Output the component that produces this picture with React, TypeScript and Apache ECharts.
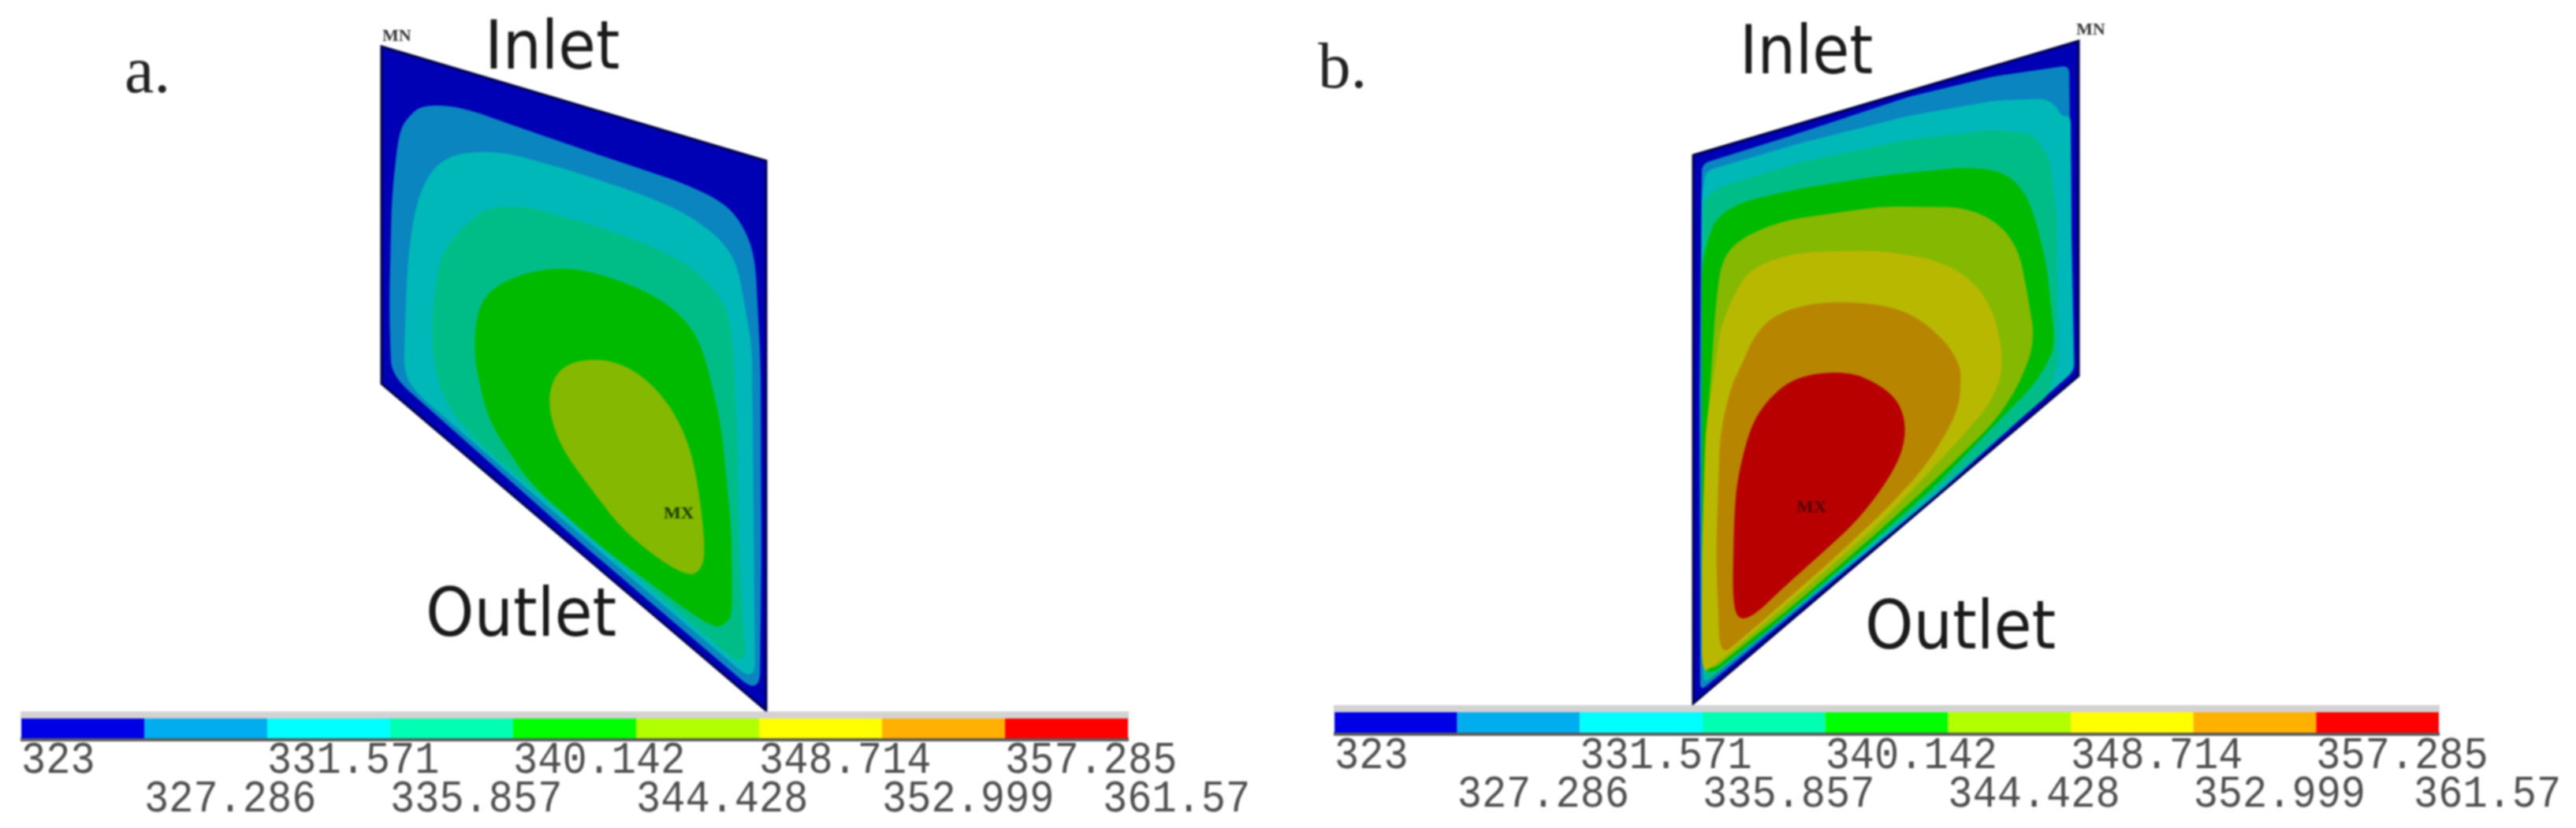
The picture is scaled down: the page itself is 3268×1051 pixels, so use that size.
import React, { useEffect, useRef } from "react";
import * as echarts from "echarts";

const levels = [323, 327.286, 331.571, 335.857, 340.142, 344.428, 348.714, 352.999, 357.285, 361.57];
const levelLabels = ["323", "327.286", "331.571", "335.857", "340.142", "344.428", "348.714", "352.999", "357.285", "361.57"];
const legendColors = ["#0000e6", "#00aef0", "#00ffff", "#00ffb2", "#00ff00", "#b2ff00", "#ffff00", "#ffb000", "#ff0000"];
const contourColors = ["#0000b4", "#0a85c0", "#00b8b8", "#00bd88", "#00ba00", "#85b800", "#b8b800", "#b88500", "#b80000"];

const plateA = [[484, 59], [972, 204], [972, 902], [484, 487]];
const plateB = [[2148, 197], [2637, 52], [2637, 477], [2148, 893]];

const a2 = [[536, 133], [583, 135], [654, 160], [761, 197], [869, 233], [920, 258], [944, 288], [958, 327], [965, 460], [966, 700], [964, 883], [726, 680], [497, 477], [495, 440], [494, 380], [497, 250], [506, 167], [519, 147]];
const a3 = [[590, 193], [640, 193], [726, 217], [815, 247], [869, 270], [911, 300], [935, 333], [947, 400], [954, 440], [956, 650], [958, 867], [726, 670], [526, 497], [513, 473], [513, 440], [517, 333], [526, 267], [540, 227], [561, 203]];
const a4 = [[629, 262], [669, 262], [744, 283], [815, 307], [869, 333], [904, 363], [926, 400], [931, 460], [935, 540], [938, 707], [947, 850], [726, 663], [601, 557], [561, 507], [547, 440], [551, 367], [561, 320], [583, 293], [608, 270]];
const a5 = [[701, 340], [744, 343], [797, 360], [844, 383], [876, 413], [894, 450], [915, 540], [928, 673], [929, 780], [922, 790], [908, 798], [869, 773], [761, 693], [672, 613], [619, 533], [601, 453], [604, 400], [619, 370], [654, 350]];
const a6 = [[761, 455], [797, 465], [833, 493], [861, 533], [879, 580], [890, 647], [895, 707], [886, 727], [872, 730], [840, 713], [790, 673], [744, 613], [711, 567], [695, 517], [701, 480], [722, 460]];

const b2 = [[2159, 208], [2279, 170], [2421, 123], [2529, 97], [2625, 83], [2628, 300], [2632, 470], [2457, 628], [2386, 687], [2157, 877], [2156, 500]];
const b3 = [[2164, 217], [2279, 183], [2421, 147], [2529, 128], [2593, 125], [2607, 133], [2616, 148], [2627, 147], [2628, 300], [2630, 472], [2457, 625], [2386, 685], [2161, 868], [2159, 500], [2159, 250]];
const b4 = [[2161, 253], [2182, 237], [2279, 207], [2421, 177], [2529, 165], [2579, 170], [2600, 200], [2609, 267], [2611, 460], [2609, 467], [2600, 500], [2457, 622], [2386, 682], [2163, 867], [2160, 600]];
const b5 = [[2177, 277], [2207, 257], [2279, 240], [2386, 223], [2493, 212], [2539, 217], [2564, 237], [2579, 267], [2596, 333], [2607, 433], [2600, 457], [2579, 490], [2457, 615], [2386, 678], [2243, 800], [2163, 862], [2159, 773], [2159, 333], [2168, 300]];
const b6 = [[2184, 330], [2207, 303], [2261, 280], [2386, 262], [2493, 263], [2536, 283], [2561, 317], [2571, 367], [2582, 433], [2561, 490], [2529, 537], [2457, 607], [2386, 672], [2279, 765], [2163, 858], [2163, 740], [2166, 540], [2177, 383]];
const b7 = [[2182, 417], [2200, 373], [2221, 340], [2279, 320], [2386, 318], [2457, 330], [2500, 353], [2529, 393], [2543, 460], [2529, 507], [2493, 550], [2439, 608], [2386, 663], [2279, 757], [2171, 848], [2159, 853], [2159, 707], [2164, 540], [2177, 460]];
const b8 = [[2211, 460], [2225, 427], [2250, 400], [2296, 385], [2350, 383], [2404, 390], [2439, 407], [2471, 437], [2484, 460], [2488, 473], [2486, 513], [2471, 547], [2439, 597], [2386, 653], [2314, 720], [2207, 813], [2182, 833], [2177, 707], [2182, 550], [2196, 490]];
const b9 = [[2307, 473], [2350, 473], [2382, 487], [2407, 507], [2418, 537], [2414, 573], [2393, 613], [2357, 660], [2314, 700], [2261, 747], [2225, 782], [2204, 787], [2198, 757], [2200, 657], [2204, 607], [2221, 540], [2243, 507], [2271, 483]];

const layersA = [[plateA, 0, 0], [a2, 1, 16], [a3, 2, 14], [a4, 3, 16], [a5, 4, 16], [a6, 5, 16]];
const layersB = [[plateB, 0, 0], [b2, 1, 5], [b3, 2, 5], [b4, 3, 6], [b5, 4, 12], [b6, 5, 14], [b7, 6, 16], [b8, 7, 16], [b9, 8, 16]];

const annotations = [
  { t: "Inlet", x: 615, y: 87, size: 85, sx: 0.91, font: "DejaVu Sans", fill: "#1a1a1a", w: "normal" },
  { t: "Outlet", x: 540, y: 807, size: 85, sx: 0.92, font: "DejaVu Sans", fill: "#1a1a1a", w: "normal" },
  { t: "Inlet", x: 2207, y: 93, size: 85, sx: 0.9, font: "DejaVu Sans", fill: "#1a1a1a", w: "normal" },
  { t: "Outlet", x: 2366, y: 823, size: 85, sx: 0.92, font: "DejaVu Sans", fill: "#1a1a1a", w: "normal" },
  { t: "a.", x: 158, y: 117, size: 84, sx: 1, font: "Liberation Serif", fill: "#222", w: "normal" },
  { t: "b.", x: 1672, y: 112, size: 83, sx: 1, font: "Liberation Serif", fill: "#222", w: "normal" },
  { t: "MN", x: 485, y: 52, size: 20, sx: 1.1, font: "Liberation Serif", fill: "#333", w: "bold" },
  { t: "MX", x: 842, y: 658, size: 20, sx: 1.15, font: "Liberation Serif", fill: "#143c00", w: "bold" },
  { t: "MN", x: 2634, y: 44, size: 20, sx: 1.1, font: "Liberation Serif", fill: "#333", w: "bold" },
  { t: "MX", x: 2279, y: 650, size: 20, sx: 1.15, font: "Liberation Serif", fill: "#500000", w: "bold" },
];

const round = (pts: number[][], cut: number, iters: number) => {
  let out = pts;
  let c = cut;
  for (let k = 0; k < iters; k++) {
    const next: number[][] = [];
    for (let i = 0; i < out.length; i++) {
      const p = out[i];
      const q = out[(i + 1) % out.length];
      const len = Math.hypot(q[0] - p[0], q[1] - p[1]) || 1;
      const t = Math.min(0.25, c / len);
      next.push([p[0] + (q[0] - p[0]) * t, p[1] + (q[1] - p[1]) * t]);
      next.push([q[0] - (q[0] - p[0]) * t, q[1] - (q[1] - p[1]) * t]);
    }
    out = next;
    c /= 2;
  }
  return out;
};

const layerSeries = (layer: any[]) => ({
  type: "custom",
  coordinateSystem: "cartesian2d",
  xAxisIndex: 0,
  yAxisIndex: 0,
  silent: true,
  clip: false,
  data: [layer[0][0]],
  renderItem: (_p: any, api: any) => {
    const px = layer[0].map((pt: number[]) => api.coord(pt));
    return {
      type: "polygon",
      shape: { points: layer[2] ? round(px, layer[2], 3) : px },
      style: { fill: contourColors[layer[1]] },
    };
  },
});

const outlineSeries = (plate: number[][]) => ({
  type: "custom",
  coordinateSystem: "cartesian2d",
  xAxisIndex: 0,
  yAxisIndex: 0,
  silent: true,
  clip: false,
  data: [plate[0]],
  renderItem: (_p: any, api: any) => ({
    type: "polygon",
    shape: { points: plate.map((pt) => api.coord(pt)) },
    style: { fill: "none", stroke: "#00004a", lineWidth: 3 },
  }),
});

const legendSeries = (idx: number, rowTop: number, rowBottom: number, topH: number) => [
  {
    type: "custom",
    coordinateSystem: "cartesian2d",
    xAxisIndex: idx,
    yAxisIndex: idx,
    silent: true,
    clip: false,
    data: [[levels[0], 1]],
    renderItem: (_p: any, api: any) => {
      const a = api.coord([levels[0], 1]);
      const b = api.coord([levels[9], 0]);
      return {
        type: "group",
        children: [
          { type: "rect", shape: { x: a[0] - 1, y: a[1] - topH, width: b[0] - a[0] + 2, height: topH + 1 }, style: { fill: "#d4d2d2" } },
          { type: "rect", shape: { x: a[0] - 1, y: b[1] - 1, width: b[0] - a[0] + 2, height: 5 }, style: { fill: "#5a5a5a" } },
        ],
      };
    },
  },
  {
    type: "custom",
    coordinateSystem: "cartesian2d",
    xAxisIndex: idx,
    yAxisIndex: idx,
    silent: true,
    clip: false,
    data: legendColors.map((_, i) => [levels[i], levels[i + 1], i]),
    encode: { x: [0, 1] },
    renderItem: (_p: any, api: any) => {
      const a = api.coord([api.value(0), 1]);
      const b = api.coord([api.value(1), 0]);
      return {
        type: "rect",
        shape: { x: a[0], y: a[1], width: b[0] - a[0], height: b[1] - a[1] },
        style: { fill: legendColors[api.value(2)] },
      };
    },
  },
  {
    type: "custom",
    coordinateSystem: "cartesian2d",
    xAxisIndex: idx,
    yAxisIndex: idx,
    silent: true,
    clip: false,
    data: levelLabels.map((_, i) => [levels[i], 0, i]),
    renderItem: (_p: any, api: any) => {
      const i = api.value(2);
      const c = api.coord([api.value(0), 0]);
      return {
        type: "text",
        x: c[0] + (i === 9 ? -32 : 0),
        y: c[1] + (i % 2 === 0 ? rowTop : rowBottom),
        scaleY: 1.12,
        style: {
          text: levelLabels[i],
          font: '52px "Liberation Mono"',
          fill: "#4e4e4e",
          textAlign: "left",
          textVerticalAlign: "bottom",
        },
      };
    },
  },
];

export default function App() {
  const ref = useRef<HTMLDivElement>(null);
  useEffect(() => {
    document.body.style.margin = "0";
    const chart = echarts.init(ref.current!, null, { renderer: "svg" });
    chart.setOption({
      animation: false,
      backgroundColor: "#ffffff",
      grid: [
        { left: 0, top: 0, width: 3268, height: 1051, show: false },
        { left: 27, top: 912, width: 1404, height: 25, show: false },
        { left: 1693, top: 904, width: 1401, height: 26, show: false },
      ],
      xAxis: [
        { type: "value", gridIndex: 0, min: 0, max: 3268, show: false },
        { type: "value", gridIndex: 1, min: levels[0], max: levels[9], show: false },
        { type: "value", gridIndex: 2, min: levels[0], max: levels[9], show: false },
      ],
      yAxis: [
        { type: "value", gridIndex: 0, min: 0, max: 1051, inverse: true, show: false },
        { type: "value", gridIndex: 1, min: 0, max: 1, show: false },
        { type: "value", gridIndex: 2, min: 0, max: 1, show: false },
      ],
      graphic: annotations.map((a) => ({
        type: "text",
        x: a.x,
        y: a.y + 0.155 * a.size,
        scaleX: a.sx,
        z: 100,
        style: {
          text: a.t,
          font: `${a.w} ${a.size}px "${a.font}"`,
          fill: a.fill,
          textAlign: "left",
          textVerticalAlign: "bottom",
        },
      })),
      series: [
        ...layersA.map((l) => layerSeries(l)),
        outlineSeries(plateA),
        ...layersB.map((l) => layerSeries(l)),
        outlineSeries(plateB),
        ...legendSeries(1, 58, 107, 9),
        ...legendSeries(2, 59, 108, 9),
      ],
    });
    return () => chart.dispose();
  }, []);
  return <div ref={ref} style={{ position: "fixed", left: 0, top: 0, width: 3268, height: 1051, filter: "blur(0.9px)" }} />;
}
